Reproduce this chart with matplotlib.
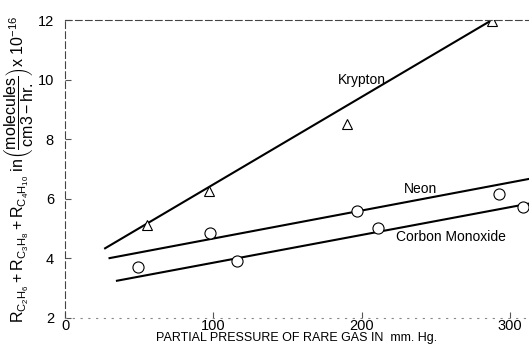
import matplotlib
matplotlib.use("Agg")
import matplotlib.pyplot as plt

plt.rcParams["font.family"] = ["Liberation Sans", "DejaVu Sans"]
plt.rcParams["mathtext.fontset"] = "custom"
plt.rcParams["mathtext.rm"] = "Liberation Sans"
plt.rcParams["mathtext.it"] = "Liberation Sans:italic"

# measured points (partial pressure mm Hg, rate x 1e-16)
krypton_x = [55, 97, 190, 288]
krypton_y = [5.1, 6.26, 8.52, 11.95]
neon_x = [49, 98, 197, 293]
neon_y = [3.7, 4.83, 5.6, 6.16]
co_x = [116, 211, 309]
co_y = [3.9, 5.0, 5.73]

# fitted lines as drawn
krypton_fit_x = [27, 288]
krypton_fit_y = [4.33, 12.0]
neon_fit_x = [30, 315]
neon_fit_y = [4.0, 6.68]
co_fit_x = [35, 315]
co_fit_y = [3.24, 5.85]

x_ticks = [0, 100, 200, 300]
y_ticks = [2, 4, 6, 8, 10, 12]

fig = plt.figure(figsize=(5.29, 3.51), dpi=100)
ax = fig.add_axes([0.123, 0.095, 0.877, 0.848])

ax.plot(krypton_fit_x, krypton_fit_y, color="black", lw=1.5)
ax.plot(neon_fit_x, neon_fit_y, color="black", lw=1.5)
ax.plot(co_fit_x, co_fit_y, color="black", lw=1.5)

ax.plot(krypton_x, krypton_y, "^", ms=7, mfc="white", mec="black", mew=0.8)
ax.plot(neon_x, neon_y, "o", ms=8, mfc="white", mec="black", mew=0.8)
ax.plot(co_x, co_y, "o", ms=8, mfc="white", mec="black", mew=0.8)

ax.text(200, 10.0, "Krypton", fontsize=10, ha="center", va="center")
ax.text(240, 6.33, "Neon", fontsize=10, ha="center", va="center")
ax.text(260, 4.7, "Corbon Monoxide", fontsize=10, ha="center", va="center")

ax.set_xlim(0, 313)
ax.set_ylim(2, 12)
ax.set_xticks(x_ticks)
ax.set_yticks(y_ticks)
ax.tick_params(direction="in", length=4, width=0.8, color="#555555",
               labelsize=10.5, pad=8)
ax.tick_params(axis="x", pad=1)

for side in ["left", "top"]:
    ax.spines[side].set_linestyle((0, (6, 3)))
    ax.spines[side].set_color("#444444")
    ax.spines[side].set_linewidth(0.8)
ax.spines["bottom"].set_linestyle((0, (1, 6)))
ax.spines["bottom"].set_color("#888888")
ax.spines["right"].set_visible(False)

ax.set_xlabel("PARTIAL PRESSURE OF RARE GAS IN  mm. Hg.", fontsize=9, labelpad=-1)
ax.set_ylabel(r"$\mathrm{R_{C_2H_6}+R_{C_3H_8}+R_{C_4H_{10}}\ in\left(\dfrac{molecules}{cm3-hr.}\right)x\ 10^{-16}}$",
              fontsize=11.5, labelpad=2)

fig.savefig("out.png", dpi=100)
